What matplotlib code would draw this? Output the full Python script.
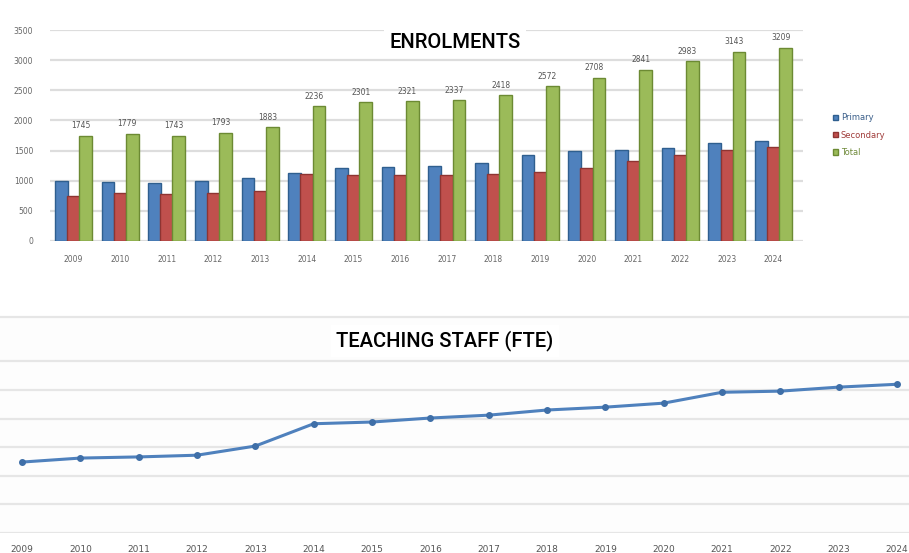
import matplotlib
matplotlib.use("Agg")
import matplotlib.pyplot as plt
import numpy as np

plt.rcParams['font.family'] = ['DejaVu Sans']

years = ["2009", "2010", "2011", "2012", "2013", "2014", "2015", "2016",
         "2017", "2018", "2019", "2020", "2021", "2022", "2023", "2024"]
primary = [1000, 985, 960, 990, 1050, 1130, 1210, 1230, 1250, 1300, 1420, 1490, 1512, 1550, 1630, 1655]
secondary = [745, 794, 783, 803, 833, 1106, 1091, 1091, 1087, 1118, 1152, 1218, 1329, 1433, 1513, 1554]
total = [1745, 1779, 1743, 1793, 1883, 2236, 2301, 2321, 2337, 2418, 2572, 2708, 2841, 2983, 3143, 3209]
yticks_top = [0, 500, 1000, 1500, 2000, 2500, 3000, 3500]

staff_years = [2009, 2010, 2011, 2012, 2013, 2014, 2015, 2016,
               2017, 2018, 2019, 2020, 2021, 2022, 2023, 2024]
staff = [124, 131, 133, 136, 152, 191, 194, 201, 206, 215, 220, 227, 246, 248, 255, 260]

W, H = 909, 553
fig = plt.figure(figsize=(W / 100, H / 100), dpi=100)
fig.patch.set_facecolor("white")

def fx(px):
    return px / W

def fy(py):
    return 1 - py / H

# ---------------- Top: enrolments ----------------
left, right, top, bot = 50, 803, 30, 241
ax = fig.add_axes([fx(left), fy(bot), fx(right - left), fy(top) - fy(bot)])
x = np.arange(len(years))
bw = 0.26
cols = ["#4F81BD", "#C0504D", "#9BBB59"]
edges = ["#2F5F8F", "#8E3432", "#6C8A33"]
ax.bar(x - bw, primary, bw * 1.05, color=cols[0], edgecolor=edges[0], linewidth=1.0, label="Primary", zorder=3)
ax.bar(x, secondary, bw * 1.05, color=cols[1], edgecolor=edges[1], linewidth=1.0, label="Secondary", zorder=3)
ax.bar(x + bw, total, bw * 1.05, color=cols[2], edgecolor=edges[2], linewidth=1.0, label="Total", zorder=3)
for xi, t in zip(x, total):
    ax.text(xi + bw * 0.6, t + 90, str(t), ha="center", va="bottom", fontsize=5.5, color="#555555")
ax.set_xlim(-0.5, 15.63)
ax.set_ylim(0, 3500)
ax.set_yticks(yticks_top)
ax.set_yticklabels([str(v) for v in yticks_top], fontsize=5.5, color="#666666")
ax.set_xticks(x)
ax.set_xticklabels(years, fontsize=5.5, color="#666666")
ax.tick_params(length=0, pad=10)
ax.tick_params(axis="y", pad=12)
ax.grid(axis="y", color="#dddddd", linewidth=1.6, zorder=0)
for s in ax.spines.values():
    s.set_visible(False)
ax.set_facecolor("white")

leg = fig.legend(loc="upper left", bbox_to_anchor=(fx(830), fy(110)), frameon=False,
                 fontsize=6, handlelength=0.6, handleheight=0.6, handletextpad=0.3,
                 labelspacing=1.0, borderaxespad=0)
for txt, c in zip(leg.get_texts(), ["#3b5f8a", "#a03c3a", "#6f8a3a"]):
    txt.set_color(c)

fig.text(fx(455), fy(42), "ENROLMENTS", ha="center", va="center", fontsize=14.5,
         family=["Roboto", "DejaVu Sans"], fontweight="medium",
         color="black", bbox=dict(facecolor="white", edgecolor="none", pad=4))

# ---------------- Bottom: teaching staff ----------------
btop, bbot = 317, 533
ax2 = fig.add_axes([0, fy(bbot), 1, fy(btop) - fy(bbot)])
ax2.plot(staff_years, staff, color="#4F81BD", linewidth=2.2, marker="o", markersize=4,
         markerfacecolor="#3f6fa8", markeredgecolor="#3f6fa8", zorder=3)
ax2.set_xlim(2009 - 22 / 58.3, 2024 + 12 / 58.3)
ax2.set_ylim(0, 377.6)
ax2.set_yticks([0, 50, 100, 150, 200, 250, 300])
ax2.set_yticklabels([])
ax2.set_xticks(staff_years)
ax2.set_xticklabels([str(y) for y in staff_years], fontsize=6.5, color="#555555")
ax2.tick_params(length=0, pad=9)
ax2.grid(axis="y", color="#e6e6e6", linewidth=1.6, zorder=0)
for k, s in ax2.spines.items():
    s.set_visible(k == "top")
ax2.spines["top"].set_color("#e6e6e6")
ax2.spines["top"].set_linewidth(1.6)
ax2.set_facecolor("#fdfdfd")

fig.text(fx(445), fy(341), "TEACHING STAFF (FTE)", ha="center", va="center", fontsize=14.5,
         family=["Roboto", "DejaVu Sans"], fontweight="medium",
         color="black", bbox=dict(facecolor="white", edgecolor="none", pad=4))

fig.savefig("out.png", dpi=100, facecolor="white")
